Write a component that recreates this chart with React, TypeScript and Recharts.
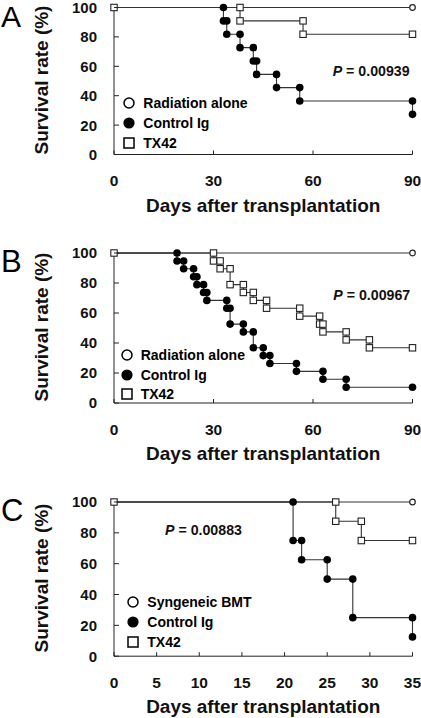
import React from 'react';
import { LineChart, Line, XAxis, YAxis, Legend } from 'recharts';

const FONT = '"Liberation Sans", Arial, Helvetica, sans-serif';
const INK = '#111';
const LINE = '#333';

// ---------- Panel A ----------
const aRadDays = [0, 90];
const aRadSurv = [100, 100];
const aCtrlDays = [0, 33, 34, 38, 42, 43, 49, 56, 90];
const aCtrlSurv = [100, 90.9, 81.8, 72.7, 63.6, 54.5, 45.5, 36.4, 27.3];
const aTxDays = [0, 38, 57, 90];
const aTxSurv = [100, 90.9, 81.8, 81.8];
const aXTicks = [0, 30, 60, 90];
const aLegend = ['Radiation alone', 'Control Ig', 'TX42'];
const aPValue = '0.00939';

// ---------- Panel B ----------
const bRadDays = [0, 90];
const bRadSurv = [100, 100];
const bCtrlDays = [0, 19, 21, 24, 25, 27, 28, 34, 35, 39, 42, 45, 47, 55, 63, 70, 90];
const bCtrlSurv = [100, 94.7, 89.5, 84.2, 78.9, 73.7, 68.4, 63.2, 52.6, 47.4, 36.8, 31.6, 26.3, 21.1, 15.8, 10.5, 10.5];
const bTxDays = [0, 30, 32, 35, 39, 42, 46, 56, 62, 63, 70, 77, 90];
const bTxSurv = [100, 94.7, 89.5, 78.9, 73.7, 68.4, 63.2, 57.9, 52.6, 47.4, 42.1, 36.8, 36.8];
const bXTicks = [0, 30, 60, 90];
const bLegend = ['Radiation alone', 'Control Ig', 'TX42'];
const bPValue = '0.00967';

// ---------- Panel C ----------
const cSynDays = [0, 35];
const cSynSurv = [100, 100];
const cCtrlDays = [0, 21, 22, 25, 28, 35];
const cCtrlSurv = [100, 75, 62.5, 50, 25, 12.5];
const cTxDays = [0, 26, 29, 35];
const cTxSurv = [100, 87.5, 75, 75];
const cXTicks = [0, 5, 10, 15, 20, 25, 30, 35];
const cLegend = ['Syngeneic BMT', 'Control Ig', 'TX42'];
const cPValue = '0.00883';

const yTicks = [0, 20, 40, 60, 80, 100];
const xTitle = 'Days after transplantation';
const yTitle = 'Survival rate (%)';

type Pt = { x: number; y: number };

function steps(days: number[], surv: number[]): Pt[] {
  const pts: Pt[] = [{ x: days[0], y: surv[0] }];
  for (let i = 1; i < days.length; i++) {
    if (surv[i] !== surv[i - 1]) pts.push({ x: days[i], y: surv[i - 1] });
    pts.push({ x: days[i], y: surv[i] });
  }
  return pts;
}

const KINDS = ['open', 'filled', 'square'];

function marker(kind: string) {
  return (props: any) => {
    const { cx, cy, payload, index } = props;
    const k = `${kind}-${index}`;
    if (cx == null || cy == null) return <g key={k} />;
    if (kind !== 'square' && payload && payload.x === 0) return <g key={k} />;
    if (kind === 'filled') return <circle key={k} cx={cx} cy={cy} r={3.8} fill="#000" />;
    if (kind === 'open')
      return <circle key={k} cx={cx} cy={cy} r={2.8} fill="#fff" stroke="#222" strokeWidth={1.2} />;
    return (
      <rect key={k} x={cx - 3.2} y={cy - 3.2} width={6.4} height={6.4} fill="#fff" stroke="#222" strokeWidth={1.1} />
    );
  };
}

function LegendIcon({ kind }: { kind: string }) {
  return (
    <svg width={14} height={14} style={{ display: 'block', flex: 'none' }}>
      {kind === 'open' && <circle cx={7} cy={7} r={5} fill="#fff" stroke="#000" strokeWidth={1.5} />}
      {kind === 'filled' && <circle cx={7} cy={7} r={5.6} fill="#000" />}
      {kind === 'square' && <rect x={2} y={2} width={10} height={10} fill="#fff" stroke="#000" strokeWidth={1.5} />}
    </svg>
  );
}

const X_AXIS_H = 64;
const Y_AXIS_W = 40;
const PLOT_LEFT = 114;
const PLOT_RIGHT_MARGIN = 8.5;
const X_TICK_MARGIN = 26;
const Y_TICK_MARGIN = 17;
const ROW_H = 19.7;

const XTick = (props: any) => {
  const { x, y, payload } = props;
  return (
    <g>
      <line x1={x} x2={x} y1={y - X_TICK_MARGIN} y2={y - X_TICK_MARGIN - 4} stroke="#222" strokeWidth={1} />
      <text x={x} y={y} dy="0.36em" textAnchor="middle" fontFamily={FONT} fontWeight="bold" fontSize={15.5} fill={INK}>
        {payload.value}
      </text>
    </g>
  );
};

const YTick = (props: any) => {
  const { x, y, payload } = props;
  return (
    <g>
      <line x1={x + Y_TICK_MARGIN} x2={x + Y_TICK_MARGIN + 5} y1={y} y2={y} stroke="#222" strokeWidth={1} />
      <text x={x} y={y} dy="0.36em" textAnchor="end" fontFamily={FONT} fontWeight="bold" fontSize={15} fill={INK}>
        {payload.value}
      </text>
    </g>
  );
};

type Series = { name: string; kind: string; data: Pt[] };

type PanelProps = {
  letter: string;
  series: Series[];
  xMax: number;
  xTicks: number[];
  pValue: string;
  top: number;
  marginTop: number;
  plotH: number;
  legendX: number;
  legendY: number;
  pX: number;
  pY: number;
  letterTop: number;
  letterSize: number;
};

function Panel(p: PanelProps) {
  const height = p.marginTop + p.plotH + X_AXIS_H;
  const plotCenterY = p.top + p.marginTop + p.plotH / 2;
  return (
    <>
      <div
        style={{
          position: 'absolute',
          left: 1,
          top: p.letterTop,
          fontFamily: FONT,
          fontSize: p.letterSize,
          lineHeight: '29px',
          color: '#000',
        }}
      >
        {p.letter}
      </div>
      <div
        style={{
          position: 'absolute',
          left: 41,
          top: plotCenterY - 1,
          transform: 'translate(-50%, -50%) rotate(-90deg)',
          fontFamily: FONT,
          fontWeight: 'bold',
          fontSize: 19,
          lineHeight: '19px',
          whiteSpace: 'nowrap',
          color: INK,
        }}
      >
        {yTitle}
      </div>
      <div style={{ position: 'absolute', left: 0, top: p.top, width: 421, height }}>
        <LineChart
          width={421}
          height={height}
          margin={{ top: p.marginTop, right: PLOT_RIGHT_MARGIN, bottom: 0, left: PLOT_LEFT - Y_AXIS_W }}
        >
          <XAxis
            type="number"
            dataKey="x"
            domain={[0, p.xMax]}
            ticks={p.xTicks}
            interval={0}
            height={X_AXIS_H}
            tickSize={0}
            tickMargin={X_TICK_MARGIN}
            tickLine={false}
            axisLine={{ stroke: '#222', strokeWidth: 1 }}
            tick={<XTick />}
            label={{
              value: xTitle,
              position: 'insideBottom',
              offset: X_AXIS_H - 57,
              fontFamily: FONT,
              fontWeight: 'bold',
              fontSize: 19,
              fill: INK,
            }}
          />
          <YAxis
            type="number"
            dataKey="y"
            domain={[0, 100]}
            ticks={yTicks}
            interval={0}
            width={Y_AXIS_W}
            tickSize={0}
            tickMargin={Y_TICK_MARGIN}
            tickLine={false}
            axisLine={{ stroke: '#222', strokeWidth: 1 }}
            tick={<YTick />}
          />
          {p.series.map((s) => (
            <Line
              key={s.name}
              name={s.name}
              data={s.data}
              dataKey="y"
              type="linear"
              stroke={LINE}
              strokeWidth={1.1}
              dot={marker(s.kind)}
              activeDot={false}
              isAnimationActive={false}
            />
          ))}
          <Legend
            layout="vertical"
            align="center"
            verticalAlign="middle"
            wrapperStyle={{
              left: p.legendX - 7,
              top: p.legendY - ROW_H / 2 - p.top,
              width: 'auto',
              height: 'auto',
            }}
            content={() => (
              <div style={{ fontFamily: FONT, fontWeight: 'bold', fontSize: 14, color: '#000' }}>
                {p.series.map((s) => (
                  <div key={s.name} style={{ display: 'flex', alignItems: 'center', height: ROW_H, whiteSpace: 'nowrap' }}>
                    <LegendIcon kind={s.kind} />
                    <span style={{ marginLeft: 7 }}>{s.name}</span>
                  </div>
                ))}
              </div>
            )}
          />
        </LineChart>
      </div>
      <div
        style={{
          position: 'absolute',
          left: p.pX,
          top: p.pY - 8,
          height: 16,
          lineHeight: '16px',
          fontFamily: FONT,
          fontWeight: 'bold',
          fontSize: 14.2,
          whiteSpace: 'nowrap',
          color: INK,
        }}
      >
        <i>P</i> = {p.pValue}
      </div>
    </>
  );
}

function buildSeries(labels: string[], sets: [number[], number[]][]): Series[] {
  return labels.map((name, i) => ({ name, kind: KINDS[i], data: steps(sets[i][0], sets[i][1]) }));
}

const seriesA = buildSeries(aLegend, [
  [aRadDays, aRadSurv],
  [aCtrlDays, aCtrlSurv],
  [aTxDays, aTxSurv],
]);
const seriesB = buildSeries(bLegend, [
  [bRadDays, bRadSurv],
  [bCtrlDays, bCtrlSurv],
  [bTxDays, bTxSurv],
]);
const seriesC = buildSeries(cLegend, [
  [cSynDays, cSynSurv],
  [cCtrlDays, cCtrlSurv],
  [cTxDays, cTxSurv],
]);

export default function App() {
  return (
    <div
      style={{
        position: 'absolute',
        left: 0,
        top: 0,
        width: 421,
        height: 718,
        overflow: 'hidden',
        background: '#fff',
      }}
    >
      <Panel
        letter="A"
        series={seriesA}
        xMax={90}
        xTicks={aXTicks}
        pValue={aPValue}
        top={0}
        marginTop={7.5}
        plotH={147}
        legendX={129.3}
        legendY={103.3}
        pX={332.7}
        pY={71}
        letterTop={2.2}
        letterSize={30}
      />
      <Panel
        letter="B"
        series={seriesB}
        xMax={90}
        xTicks={bXTicks}
        pValue={bPValue}
        top={243.3}
        marginTop={10}
        plotH={150}
        legendX={126.7}
        legendY={355}
        pX={333.3}
        pY={295}
        letterTop={246.5}
        letterSize={31}
      />
      <Panel
        letter="C"
        series={seriesC}
        xMax={35}
        xTicks={cXTicks}
        pValue={cPValue}
        top={492.3}
        marginTop={10}
        plotH={154.2}
        legendX={133.3}
        legendY={602.3}
        pX={165}
        pY={530}
        letterTop={495.5}
        letterSize={31}
      />
    </div>
  );
}
